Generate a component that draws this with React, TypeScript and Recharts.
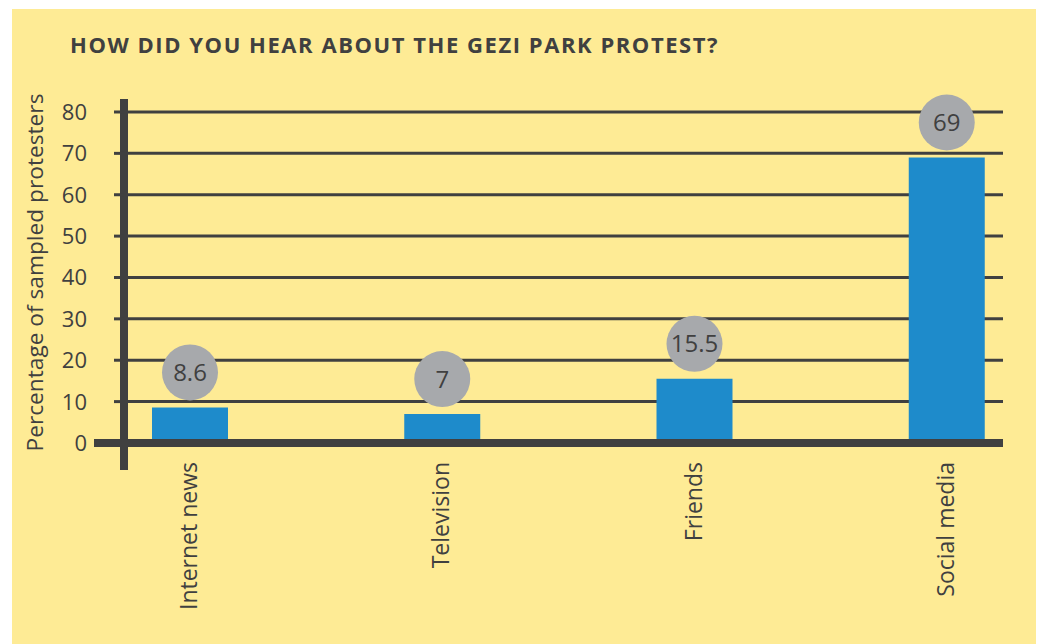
import React from "react";
import {
  BarChart, Bar, XAxis, YAxis, CartesianGrid, ReferenceLine, LabelList,
} from "recharts";

const title = "HOW DID YOU HEAR ABOUT THE GEZI PARK PROTEST?";
const yLabel = "Percentage of sampled protesters";
const categories = ["Internet news", "Television", "Friends", "Social media"];
const shares = [8.6, 7, 15.5, 69];
const yTicks = [0, 10, 20, 30, 40, 50, 60, 70, 80];

const data = categories.map((category, i) => ({ category, share: shares[i] }));

const INK = "#404040";
const FONT = "'Open Sans', 'Noto Sans', sans-serif";

function YTick(props: any) {
  const { x, y, payload } = props;
  return (
    <g>
      <text x={x} y={y} dy="0.36em" textAnchor="end" fill={INK} fontSize={22} fontFamily={FONT}>
        {payload.value}
      </text>
      {payload.value === 0 && (
        <line x1={x + 7} x2={x + 37} y1={y} y2={y} stroke={INK} strokeWidth={8} />
      )}
    </g>
  );
}

function XTick(props: any) {
  const { x, y, payload } = props;
  const ty = y - 8;
  return (
    <text
      x={x}
      y={ty}
      dy="0.3em"
      textAnchor="end"
      transform={`rotate(-90, ${x}, ${ty})`}
      fill={INK}
      fontSize={23}
      fontFamily={FONT}
    >
      {payload.value}
    </text>
  );
}

function Bubble(props: any) {
  const x = Number(props.x);
  const y = Number(props.y);
  const w = Number(props.width);
  const cx = x + w / 2;
  const cy = y - 35;
  return (
    <g>
      <circle cx={cx} cy={cy} r={28} fill="#A7A9AC" />
      <text x={cx} y={cy} dy="0.36em" textAnchor="middle" fill={INK} fontSize={24} fontFamily={FONT}>
        {props.value}
      </text>
    </g>
  );
}

function AxisTitle(props: any) {
  const vb = props.viewBox || { x: 0, y: 90, width: 112, height: 371 };
  const cx = vb.x + 23;
  const cy = vb.y + vb.height / 2 - 12;
  return (
    <text
      x={cx}
      y={cy}
      dy="0.35em"
      textAnchor="middle"
      transform={`rotate(-90, ${cx}, ${cy})`}
      fill={INK}
      fontSize={22.7}
      fontFamily={FONT}
    >
      {yLabel}
    </text>
  );
}

export default function App() {
  return (
    <div
      style={{
        position: "absolute",
        left: 12,
        top: 9,
        width: 1024,
        height: 635,
        background: "#FEEB95",
        fontFamily: FONT,
      }}
    >
      <div
        style={{
          position: "absolute",
          left: 58,
          top: 20,
          fontSize: 22,
          fontWeight: 700,
          color: INK,
          whiteSpace: "nowrap",
          letterSpacing: 1.55,
        }}
      >
        {title}
      </div>
      <div style={{ position: "absolute", left: 0, top: 0 }}>
        <BarChart
          width={1024}
          height={635}
          data={data}
          margin={{ top: 90, right: 33, left: 0, bottom: 0 }}
        >
          <CartesianGrid
            vertical={false}
            horizontalValues={yTicks}
            stroke={INK}
            strokeWidth={3}
          />
          <XAxis
            dataKey="category"
            height={174}
            interval={0}
            padding={{ left: -60, right: -70 }}
            tickLine={false}
            axisLine={false}
            tickSize={0}
            tickMargin={0}
            tick={<XTick />}
          />
          <YAxis
            type="number"
            width={112}
            domain={[-6.53, 83.14]}
            allowDataOverflow
            ticks={yTicks}
            interval={0}
            tickSize={10}
            tickMargin={27}
            tickLine={{ stroke: INK, strokeWidth: 3 }}
            axisLine={{ stroke: INK, strokeWidth: 8 }}
            tick={<YTick />}
            label={{ content: <AxisTitle /> }}
          />
          <ReferenceLine y={0} stroke={INK} strokeWidth={8} ifOverflow="visible" />
          <Bar dataKey="share" fill="#1E8BCB" barSize={76} isAnimationActive={false}>
            <LabelList dataKey="share" content={<Bubble />} />
          </Bar>
        </BarChart>
      </div>
    </div>
  );
}
